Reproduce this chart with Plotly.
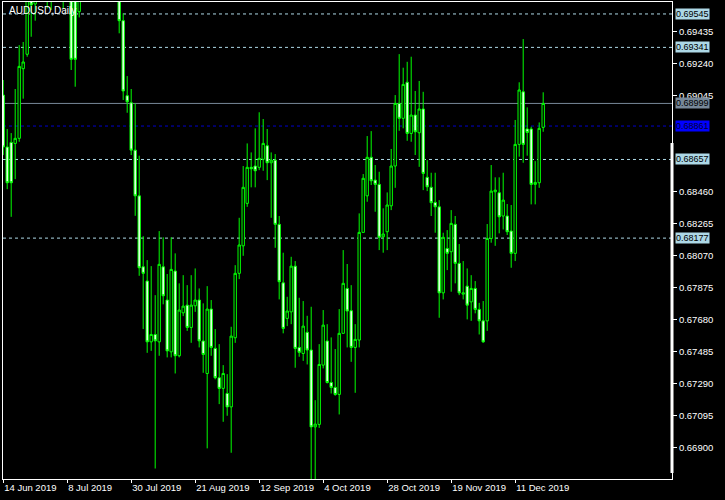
import plotly.graph_objects as go

# ---- data (AUDUSD daily, 14 Jun 2019 .. 20 Dec 2019) ----
opens = [0.69050, 0.68733, 0.68761, 0.68755, 0.68786, 0.69211, 0.69299, 0.69800, 0.69606, 0.69720,
         0.69790, 0.70200, 0.69950, 0.69850, 0.70100, 0.70050, 0.69750, 0.69680, 0.69700, 0.69559,
         0.69650, 0.70150, 0.70300, 0.70200, 0.70300, 0.70700, 0.70500, 0.70400, 0.69800, 0.69850,
         0.69504, 0.69046, 0.69003, 0.68714, 0.68435, 0.68002, 0.67915, 0.67544, 0.67589, 0.67544,
         0.68002, 0.67799, 0.67483, 0.67976, 0.67459, 0.67721, 0.67768, 0.67632, 0.67764, 0.67799,
         0.67549, 0.67351, 0.67744, 0.67504, 0.67325, 0.67260, 0.67229, 0.67147, 0.67569, 0.67962,
         0.68130, 0.68389, 0.68609, 0.68617, 0.68609, 0.68658, 0.68741, 0.68637, 0.68653, 0.68261,
         0.67904, 0.67687, 0.67727, 0.68006, 0.67510, 0.67473, 0.67602, 0.67494, 0.67025, 0.67040,
         0.67402, 0.67549, 0.67296, 0.67266, 0.67223, 0.67596, 0.67870, 0.67734, 0.67510, 0.67555,
         0.68212, 0.68435, 0.68670, 0.68531, 0.68505, 0.68185, 0.68216, 0.68374, 0.68617, 0.68999,
         0.68908, 0.69128, 0.68816, 0.68928, 0.68820, 0.68965, 0.68548, 0.68487, 0.68395, 0.68368,
         0.67843, 0.68114, 0.68094, 0.68261, 0.68023, 0.67835, 0.67884, 0.67788, 0.67870, 0.67742,
         0.67672, 0.67672, 0.68175, 0.68460, 0.68454, 0.68312, 0.68312, 0.68220, 0.68084, 0.68749,
         0.69070, 0.68843, 0.68843, 0.68505, 0.68515, 0.68853]
highs = [0.69142, 0.68843, 0.68818, 0.69087, 0.69355, 0.69374, 0.69760, 0.69850, 0.69780, 0.69850,
         0.70250, 0.70480, 0.70000, 0.70150, 0.70150, 0.70120, 0.69800, 0.69700, 0.69750, 0.69700,
         0.70200, 0.70350, 0.70350, 0.70350, 0.70800, 0.70820, 0.70550, 0.70450, 0.69900, 0.69950,
         0.69549, 0.69166, 0.69087, 0.68999, 0.68680, 0.68189, 0.68043, 0.68006, 0.67829, 0.68220,
         0.68182, 0.67958, 0.68182, 0.68084, 0.67901, 0.67951, 0.67890, 0.67951, 0.67992, 0.67870,
         0.67779, 0.67884, 0.67799, 0.67622, 0.67530, 0.67402, 0.67347, 0.67636, 0.68012, 0.68301,
         0.68617, 0.68755, 0.68700, 0.68847, 0.68945, 0.68904, 0.68843, 0.68700, 0.68690, 0.68312,
         0.68088, 0.67819, 0.68063, 0.68037, 0.67813, 0.67793, 0.67703, 0.67758, 0.67188, 0.67530,
         0.67738, 0.67652, 0.67571, 0.67500, 0.67744, 0.68104, 0.68019, 0.67890, 0.67652, 0.68328,
         0.68568, 0.68800, 0.68830, 0.68623, 0.68582, 0.68359, 0.68456, 0.68721, 0.69050, 0.69300,
         0.69217, 0.69253, 0.69284, 0.69075, 0.69136, 0.69070, 0.68653, 0.68576, 0.68576, 0.68409,
         0.68210, 0.68226, 0.68348, 0.68312, 0.68141, 0.68037, 0.67992, 0.67951, 0.67915, 0.67782,
         0.67793, 0.68263, 0.68623, 0.68548, 0.68548, 0.68576, 0.68385, 0.68379, 0.68898, 0.69128,
         0.69392, 0.68975, 0.68857, 0.68647, 0.68883, 0.69067]
lows = [0.68684, 0.68476, 0.68307, 0.68537, 0.68765, 0.69028, 0.69284, 0.69406, 0.69504, 0.69650,
        0.69700, 0.69579, 0.69569, 0.69750, 0.69980, 0.69579, 0.69640, 0.69203, 0.69101, 0.69524,
        0.69640, 0.70100, 0.70150, 0.70100, 0.70250, 0.70450, 0.70300, 0.69750, 0.69700, 0.69427,
        0.69020, 0.68942, 0.68684, 0.68313, 0.67947, 0.67622, 0.67477, 0.67489, 0.66771, 0.67459,
        0.67773, 0.67449, 0.67449, 0.67351, 0.67449, 0.67701, 0.67611, 0.67538, 0.67727, 0.67510,
        0.67355, 0.66894, 0.67459, 0.67315, 0.67164, 0.67056, 0.67093, 0.66867, 0.67538, 0.67927,
        0.68069, 0.68368, 0.68487, 0.68487, 0.68592, 0.68588, 0.68531, 0.68301, 0.68118, 0.67803,
        0.67596, 0.67640, 0.67652, 0.67386, 0.67453, 0.67428, 0.67406, 0.66650, 0.66650, 0.67019,
        0.67382, 0.67290, 0.67229, 0.67215, 0.67101, 0.67596, 0.67510, 0.67422, 0.67233, 0.67510,
        0.68212, 0.68399, 0.68501, 0.68338, 0.68104, 0.68088, 0.68104, 0.68348, 0.68484, 0.68832,
        0.68847, 0.68771, 0.68765, 0.68684, 0.68612, 0.68470, 0.68464, 0.68312, 0.68210, 0.67691,
        0.67803, 0.67982, 0.67850, 0.67901, 0.67829, 0.67803, 0.67681, 0.67672, 0.67718, 0.67589,
        0.67538, 0.67611, 0.68149, 0.68130, 0.68206, 0.68230, 0.68196, 0.67996, 0.68037, 0.68674,
        0.68637, 0.68680, 0.68383, 0.68383, 0.68484, 0.68826]
closes = [0.68733, 0.68515, 0.68515, 0.68786, 0.69225, 0.69252, 0.69700, 0.69600, 0.69720, 0.69790,
          0.70200, 0.69950, 0.69850, 0.70100, 0.70050, 0.69750, 0.69680, 0.69268, 0.69268, 0.69650,
          0.70150, 0.70300, 0.70200, 0.70300, 0.70700, 0.70500, 0.70400, 0.69800, 0.69850, 0.69504,
          0.69075, 0.69009, 0.68714, 0.68435, 0.67996, 0.67962, 0.67544, 0.67589, 0.67550, 0.68017,
          0.67825, 0.67489, 0.67986, 0.67459, 0.67738, 0.67762, 0.67632, 0.67768, 0.67799, 0.67550,
          0.67467, 0.67744, 0.67510, 0.67325, 0.67260, 0.67351, 0.67147, 0.67579, 0.67962, 0.68135,
          0.68487, 0.68609, 0.68600, 0.68588, 0.68664, 0.68755, 0.68637, 0.68653, 0.68261, 0.67911,
          0.67626, 0.67732, 0.68006, 0.67504, 0.67480, 0.67640, 0.67494, 0.67025, 0.67042, 0.67406,
          0.67646, 0.67296, 0.67266, 0.67223, 0.67596, 0.67901, 0.67732, 0.67510, 0.67559, 0.68212,
          0.68542, 0.68670, 0.68527, 0.68505, 0.68182, 0.68202, 0.68379, 0.68617, 0.68999, 0.68908,
          0.69115, 0.68816, 0.68928, 0.68826, 0.68965, 0.68572, 0.68490, 0.68393, 0.68368, 0.67843,
          0.68182, 0.68084, 0.68267, 0.68023, 0.67843, 0.67843, 0.67768, 0.67870, 0.67742, 0.67672,
          0.67544, 0.68175, 0.68464, 0.68470, 0.68307, 0.68409, 0.68216, 0.68084, 0.68749, 0.69081,
          0.68749, 0.68822, 0.68505, 0.68517, 0.68847, 0.68999]

date_tick_index = [0, 16, 32, 48, 64, 80, 96, 112, 128]
date_tick_labels = ["14 Jun 2019", "8 Jul 2019", "30 Jul 2019", "21 Aug 2019", "12 Sep 2019",
                    "4 Oct 2019", "28 Oct 2019", "19 Nov 2019", "11 Dec 2019"]
price_ticks = [0.69435, 0.69240, 0.69045, 0.68460, 0.68265, 0.68070, 0.67875,
               0.67680, 0.67485, 0.67290, 0.67095, 0.66900]

level_prices = [0.69545, 0.69341, 0.68657, 0.68177]
bid_price = 0.68999
ask_price = 0.68861

x = list(range(len(opens)))

LIME = "#00FF00"
LIGHTBLUE = "#ADD8E6"
FONT = "Liberation Sans"

fig = go.Figure(go.Candlestick(
    x=x, open=opens, high=highs, low=lows, close=closes,
    increasing=dict(line=dict(color=LIME, width=1), fillcolor="#000000"),
    decreasing=dict(line=dict(color=LIME, width=1), fillcolor="#FFFFFF"),
    whiskerwidth=0, hoverinfo="skip",
))

shapes = []
annotations = []
label_x = 1.0045

for p in level_prices:
    shapes.append(dict(type="line", xref="paper", yref="y", x0=0, x1=1, y0=p, y1=p,
                       line=dict(color=LIGHTBLUE, width=1, dash="3px,3px"), layer="below"))
    annotations.append(dict(xref="paper", yref="y", x=label_x, y=p, xanchor="left", yanchor="middle",
                            text=f"{p:.5f}", showarrow=False, bgcolor=LIGHTBLUE, borderpad=0,
                            font=dict(family=FONT, size=9, color="#000000")))

shapes.append(dict(type="line", xref="paper", yref="y", x0=0, x1=1, y0=bid_price, y1=bid_price,
                   line=dict(color="#778899", width=1), layer="below"))
annotations.append(dict(xref="paper", yref="y", x=label_x, y=bid_price, xanchor="left", yanchor="middle",
                        text=f"{bid_price:.5f}", showarrow=False, bgcolor="#778899", borderpad=0,
                        font=dict(family=FONT, size=9, color="#000000")))

shapes.append(dict(type="line", xref="paper", yref="y", x0=0, x1=1, y0=ask_price, y1=ask_price,
                   line=dict(color="#0000CD", width=1, dash="3px,3px"), layer="below"))
annotations.append(dict(xref="paper", yref="y", x=label_x, y=ask_price, xanchor="left", yanchor="middle",
                        text=f"{ask_price:.5f}", showarrow=False, bgcolor="#0000FF", borderpad=0,
                        font=dict(family=FONT, size=9, color="#000033")))

# thick segment on the right border
shapes.append(dict(type="line", xref="paper", yref="paper", x0=1, x1=1, y0=0.0126, y1=0.7044,
                   line=dict(color="#FFFFFF", width=3)))

annotations.append(dict(xref="paper", yref="paper", x=0.006, y=0.997, xanchor="left", yanchor="top",
                        text="AUDUSD,Daily", showarrow=False,
                        font=dict(family=FONT, size=10, color="#FFFFFF")))

fig.update_layout(
    width=725, height=500,
    margin=dict(l=3, r=53, t=2, b=21, pad=0),
    paper_bgcolor="#000000", plot_bgcolor="#000000",
    showlegend=False, boxgap=0.15,
    shapes=shapes, annotations=annotations,
    xaxis=dict(range=[-0.05, 167.2], tickvals=date_tick_index, ticktext=date_tick_labels,
               ticks="outside", ticklen=3, tickcolor="#FFFFFF", tickwidth=1, tickangle=0,
               ticklabelposition="outside right", automargin=False,
               showline=True, linecolor="#FFFFFF", linewidth=1, mirror=True,
               showgrid=False, zeroline=False, rangeslider=dict(visible=False),
               tickfont=dict(family=FONT, size=9.5, color="#FFFFFF")),
    yaxis=dict(range=[0.66707, 0.69618], side="right", tickvals=price_ticks, tickformat=".5f",
               ticks="outside", ticklen=4, tickcolor="#FFFFFF", tickwidth=1, automargin=False,
               showline=True, linecolor="#FFFFFF", linewidth=1, mirror=True,
               showgrid=False, zeroline=False,
               tickfont=dict(family=FONT, size=9.5, color="#FFFFFF")),
)

fig.write_html("out.html", config={"displayModeBar": False},
               post_script="document.body.style.margin='0';document.body.style.background='#000';")
